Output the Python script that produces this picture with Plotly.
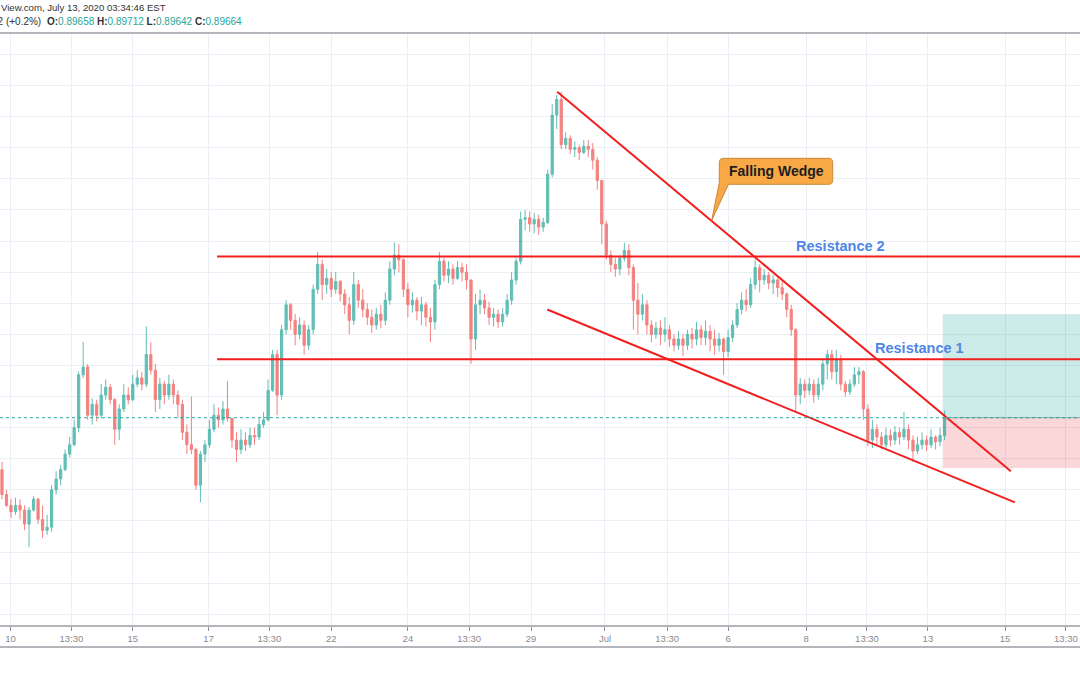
import plotly.graph_objects as go

# ---------------- data (2-hour candles) ----------------
opens = [
    .8933, .8917, .8910, .8906, .8910, .8907, .8898, .8907, .8914, .8901,
    .8894, .8896, .8920, .8927, .8933, .8943, .8949, .8960, .8994, .8999,
    .8968, .8975, .8968, .8981, .8986, .8978, .8959, .8972, .8981, .8978,
    .8988, .8992, .8988, .9007, .8997, .8978, .8988, .8981, .8988, .8981,
    .8975, .8957, .8949, .8946, .8923, .8943, .8949, .8959, .8968, .8965,
    .8972, .8966, .8952, .8946, .8952, .8949, .8955, .8954, .8962, .8965,
    .8984, .9007, .8981, .9023, .9039, .9029, .9020, .9026, .9013, .9023,
    .9049, .9065, .9052, .9056, .9049, .9054, .9046, .9039, .9029, .9052,
    .9042, .9036, .9031, .9026, .9033, .9029, .9042, .9062, .9071, .9068,
    .9049, .9039, .9042, .9035, .9039, .9031, .9028, .9052, .9067, .9058,
    .9062, .9056, .9063, .9060, .9055, .9017, .9039, .9042, .9037, .9031,
    .9033, .9028, .9033, .9042, .9055, .9067, .9094, .9095, .9091, .9094,
    .9089, .9092, .9123, .9161, .9171, .9142, .9146, .9139, .9140, .9137,
    .9141, .9139, .9132, .9119, .9091, .9071, .9065, .9062, .9069, .9074,
    .9063, .9042, .9033, .9039, .9026, .9020, .9024, .9020, .9023, .9017,
    .9013, .9017, .9013, .9020, .9017, .9023, .9018, .9022, .9017, .9013,
    .9017, .9009, .9018, .9026, .9036, .9042, .9039, .9052, .9063, .9055,
    .9058, .9053, .9055, .9050, .9046, .9036, .9023, .8981, .8988, .8984,
    .8988, .8981, .8988, .9001, .9007, .8996, .9004, .8988, .8983, .8988,
    .8994, .8996, .8972, .8952, .8959, .8954, .8949, .8955, .8952, .8957,
    .8954, .8959, .8952, .8945, .8949, .8952, .8949, .8954, .8951, .8955,
]
highs = [
    .8938, .8920, .8914, .8915, .8914, .8910, .8909, .8916, .8915, .8910,
    .8904, .8923, .8932, .8936, .8946, .8954, .8965, .8996, .9015, .9001,
    .8979, .8978, .8988, .8991, .8988, .8979, .8975, .8988, .8986, .8994,
    .8997, .8996, .9025, .9015, .9001, .8992, .8990, .8994, .8991, .8984,
    .8978, .8962, .8980, .8947, .8945, .8952, .8965, .8975, .8973, .8977,
    .8990, .8966, .8957, .8959, .8957, .8960, .8960, .8966, .8970, .8991,
    .9010, .9010, .9026, .9042, .9040, .9033, .9031, .9029, .9026, .9052,
    .9073, .9068, .9062, .9060, .9060, .9055, .9049, .9044, .9060, .9055,
    .9049, .9040, .9036, .9037, .9039, .9047, .9067, .9079, .9078, .9069,
    .9053, .9047, .9044, .9044, .9041, .9037, .9055, .9073, .9069, .9067,
    .9065, .9067, .9066, .9065, .9055, .9046, .9049, .9046, .9041, .9037,
    .9036, .9037, .9046, .9060, .9069, .9099, .9100, .9099, .9098, .9097,
    .9095, .9126, .9168, .9174, .9176, .9150, .9148, .9144, .9142, .9145,
    .9145, .9143, .9134, .9119, .9093, .9074, .9069, .9071, .9079, .9078,
    .9065, .9053, .9046, .9042, .9029, .9028, .9029, .9031, .9026, .9020,
    .9022, .9020, .9023, .9024, .9028, .9026, .9029, .9026, .9023, .9021,
    .9018, .9023, .9029, .9040, .9047, .9049, .9056, .9068, .9065, .9062,
    .9060, .9058, .9056, .9054, .9047, .9039, .9024, .8992, .8991, .8992,
    .8991, .8992, .9004, .9010, .9010, .9010, .9007, .8990, .8991, .8999,
    .8999, .8997, .8975, .8965, .8962, .8957, .8960, .8959, .8961, .8960,
    .8970, .8962, .8955, .8954, .8957, .8955, .8959, .8955, .8960, .8971,
]
lows = [
    .8914, .8909, .8902, .8904, .8901, .8894, .8883, .8906, .8898, .8889,
    .8891, .8893, .8917, .8923, .8932, .8941, .8948, .8957, .8992, .8965,
    .8962, .8964, .8966, .8978, .8975, .8949, .8952, .8970, .8975, .8977,
    .8986, .8984, .8986, .8994, .8970, .8972, .8975, .8978, .8975, .8966,
    .8952, .8943, .8943, .8920, .8912, .8938, .8947, .8957, .8960, .8962,
    .8964, .8947, .8938, .8943, .8945, .8947, .8949, .8952, .8960, .8964,
    .8983, .8968, .8978, .9020, .9023, .9013, .9017, .9007, .9010, .9020,
    .9046, .9042, .9046, .9044, .9046, .9041, .9033, .9020, .9026, .9037,
    .9031, .9026, .9021, .9023, .9024, .9026, .9039, .9058, .9060, .9044,
    .9031, .9034, .9029, .9026, .9025, .9015, .9023, .9049, .9054, .9053,
    .9052, .9055, .9054, .9049, .9001, .9010, .9033, .9033, .9026, .9025,
    .9024, .9025, .9031, .9039, .9052, .9065, .9087, .9086, .9085, .9084,
    .9086, .9091, .9121, .9152, .9139, .9139, .9136, .9134, .9132, .9136,
    .9134, .9126, .9113, .9078, .9068, .9060, .9057, .9058, .9067, .9058,
    .9023, .9020, .9029, .9020, .9015, .9017, .9013, .9015, .9012, .9009,
    .9010, .9006, .9010, .9011, .9013, .9013, .9013, .9009, .9007, .9009,
    .8994, .9005, .9015, .9024, .9033, .9035, .9037, .9049, .9047, .9052,
    .9049, .9046, .9044, .9042, .9031, .9019, .8970, .8975, .8979, .8981,
    .8976, .8978, .8984, .8991, .8991, .8988, .8984, .8980, .8981, .8986,
    .8988, .8965, .8948, .8947, .8949, .8946, .8947, .8948, .8949, .8949,
    .8952, .8946, .8938, .8943, .8946, .8945, .8947, .8946, .8948, .8952,
]
closes = [
    .8917, .8910, .8906, .8910, .8907, .8898, .8907, .8914, .8901, .8894,
    .8896, .8920, .8927, .8933, .8943, .8949, .8960, .8994, .8999, .8968,
    .8975, .8968, .8981, .8986, .8978, .8959, .8972, .8981, .8978, .8988,
    .8992, .8988, .9007, .8997, .8978, .8988, .8981, .8988, .8981, .8975,
    .8957, .8949, .8946, .8923, .8943, .8949, .8959, .8968, .8965, .8972,
    .8966, .8952, .8946, .8952, .8949, .8955, .8954, .8962, .8965, .8984,
    .9007, .8981, .9023, .9039, .9029, .9020, .9026, .9013, .9023, .9049,
    .9065, .9052, .9056, .9049, .9054, .9046, .9039, .9029, .9052, .9042,
    .9036, .9031, .9026, .9033, .9029, .9042, .9062, .9071, .9068, .9049,
    .9039, .9042, .9035, .9039, .9031, .9028, .9052, .9067, .9058, .9062,
    .9056, .9063, .9060, .9055, .9017, .9039, .9042, .9037, .9031, .9033,
    .9028, .9033, .9042, .9055, .9067, .9094, .9095, .9091, .9094, .9089,
    .9092, .9123, .9161, .9171, .9142, .9146, .9139, .9140, .9137, .9141,
    .9139, .9132, .9119, .9091, .9071, .9065, .9062, .9069, .9074, .9063,
    .9042, .9033, .9039, .9026, .9020, .9024, .9020, .9023, .9017, .9013,
    .9017, .9013, .9020, .9017, .9023, .9018, .9022, .9017, .9013, .9017,
    .9009, .9018, .9026, .9036, .9042, .9039, .9052, .9063, .9055, .9058,
    .9053, .9055, .9050, .9046, .9036, .9023, .8981, .8988, .8984, .8988,
    .8981, .8988, .9001, .9007, .8996, .9004, .8988, .8983, .8988, .8994,
    .8996, .8972, .8952, .8959, .8954, .8949, .8955, .8952, .8957, .8954,
    .8959, .8952, .8945, .8949, .8952, .8949, .8954, .8951, .8955, .89664,
]
bar_index = list(range(len(closes)))

tick_positions = [1.9, 15.4, 29.0, 45.8, 59.3, 73.0, 90.0, 103.6, 117.3,
                  133.7, 147.5, 161.0, 178.3, 191.8, 205.3, 222.4, 235.9]
tick_labels = ["10", "13:30", "15", "17", "13:30", "22", "24", "13:30", "29",
               "Jul", "13:30", "6", "8", "13:30", "13", "15", "13:30"]

resistance_levels = [0.9070, 0.9004]
resistance_names = ["Resistance 2", "Resistance 1"]
resistance_label_x = [186.0, 203.5]
resistance_start = 47.7
upper_wedge_x = [123.1, 223.7]
upper_wedge_y = [0.9176, 0.8932]
lower_wedge_x = [120.9, 224.6]
lower_wedge_y = [0.9036, 0.8912]
last_price = 0.89664
target_price = 0.9033
stop_price = 0.8934
position_start = 208.6

X_RANGE = [-0.44, 239.03]
Y_RANGE = [0.88331, 0.92138]

W, H = 1080, 675
M_T, M_B = 33, 50
PLOT_H = H - M_T - M_B

RED = "#f21f1f"
TEAL = "#26a69a"
GRID = "#e9eff4"


def px(x):
    return x / W


def py(y):
    return (H - M_B - y) / PLOT_H


fig = go.Figure()

fig.add_trace(go.Candlestick(
    x=bar_index, open=opens, high=highs, low=lows, close=closes,
    increasing=dict(line=dict(color="#26a69a", width=1), fillcolor="#26a69a"),
    decreasing=dict(line=dict(color="#ef5350", width=1), fillcolor="#ef5350"),
    whiskerwidth=0, opacity=0.72, showlegend=False, hoverinfo="skip",
))

for lvl in resistance_levels:
    fig.add_trace(go.Scatter(x=[resistance_start, X_RANGE[1]], y=[lvl, lvl], mode="lines",
                             line=dict(color=RED, width=2), showlegend=False, hoverinfo="skip"))

fig.add_trace(go.Scatter(x=upper_wedge_x, y=upper_wedge_y, mode="lines",
                         line=dict(color=RED, width=2), showlegend=False, hoverinfo="skip"))
fig.add_trace(go.Scatter(x=lower_wedge_x, y=lower_wedge_y, mode="lines",
                         line=dict(color=RED, width=2), showlegend=False, hoverinfo="skip"))

shapes = [
    # long position: target and stop zones
    dict(type="rect", xref="x", yref="y", x0=position_start, x1=X_RANGE[1],
         y0=last_price, y1=target_price, fillcolor="rgba(0,150,136,0.2)",
         line=dict(width=0), layer="between"),
    dict(type="rect", xref="x", yref="y", x0=position_start, x1=X_RANGE[1],
         y0=stop_price, y1=last_price, fillcolor="rgba(242,54,69,0.2)",
         line=dict(width=0), layer="between"),
    dict(type="line", xref="x", yref="y", x0=position_start, x1=X_RANGE[1],
         y0=last_price, y1=last_price, line=dict(color="#9aa0a6", width=1)),
    # current price line
    dict(type="line", xref="paper", yref="y", x0=0, x1=1, y0=last_price, y1=last_price,
         line=dict(color=TEAL, width=1, dash="dot")),
    # frame lines
    dict(type="line", xref="paper", yref="paper", x0=0, x1=1, y0=1, y1=1,
         line=dict(color="#b4b6bb", width=2)),
    dict(type="line", xref="paper", yref="paper", x0=0, x1=1, y0=py(647), y1=py(647),
         line=dict(color="#b4b6bb", width=2)),
]

# "Falling Wedge" callout balloon
bx0, bx1, by0, by1, r = 719.3, 832.7, 158.3, 184.3, 4
tip = (711.7, 220.5)
pts = [
    ("M", (bx0 + r, by0)), ("L", (bx1 - r, by0)), ("Q", (bx1, by0), (bx1, by0 + r)),
    ("L", (bx1, by1 - r)), ("Q", (bx1, by1), (bx1 - r, by1)),
    ("L", (728.5, by1)), ("L", tip), ("L", (bx0, by1 - 1.5)),
    ("L", (bx0, by0 + r)), ("Q", (bx0, by0), (bx0 + r, by0)),
]
path = ""
for item in pts:
    cmd = item[0]
    coords = " ".join(f"{px(p[0]):.5f},{py(p[1]):.5f}" for p in item[1:])
    path += f"{cmd}{coords} "
path += "Z"
shapes.append(dict(type="path", xref="paper", yref="paper", path=path,
                   fillcolor="#f9a846", line=dict(color="#c9873a", width=1)))

annotations = [
    dict(text="Falling Wedge", xref="paper", yref="paper", x=px(776), y=py(171.3),
         showarrow=False, xanchor="center", yanchor="middle",
         font=dict(family="Liberation Sans", size=14, color="#1e1e1e", weight="bold")),
    dict(text="View.com, July 13, 2020 03:34:46 EST", xref="paper", yref="paper",
         x=0, y=py(8), xanchor="left", yanchor="middle", showarrow=False, xshift=-1,
         font=dict(family="Liberation Sans", size=9.6, color="#333333")),
    dict(text="32 (+0.2%)", xref="paper", yref="paper", x=px(43), y=py(21),
         xanchor="right", yanchor="middle", showarrow=False,
         font=dict(family="Liberation Sans", size=10, color="#333333")),
    dict(text=(f"<b>O:</b><span style='color:{TEAL}'>0.89658</span> "
               f"<b>H:</b><span style='color:{TEAL}'>0.89712</span> "
               f"<b>L:</b><span style='color:{TEAL}'>0.89642</span> "
               f"<b>C:</b><span style='color:{TEAL}'>0.89664</span>"),
         xref="paper", yref="paper", x=px(45), y=py(21), xanchor="left", yanchor="middle",
         showarrow=False, font=dict(family="Liberation Sans", size=10, color="#333333")),
]
for name, lvl, lx in zip(resistance_names, resistance_levels, resistance_label_x):
    annotations.append(dict(text=name, xref="x", yref="y", x=lx, y=lvl, yshift=11,
                            showarrow=False, xanchor="center", yanchor="middle",
                            font=dict(family="Liberation Sans", size=14.5,
                                      color="#4f86e6", weight="bold")))

fig.update_layout(
    width=W, height=H,
    margin=dict(l=0, r=0, t=M_T, b=M_B),
    paper_bgcolor="white", plot_bgcolor="white",
    shapes=shapes, annotations=annotations,
    xaxis=dict(range=X_RANGE, tickmode="array", tickvals=tick_positions, ticktext=tick_labels,
               showgrid=True, gridcolor=GRID, gridwidth=1, zeroline=False,
               ticks="outside", ticklen=4, tickcolor="#8e9096", tickwidth=1,
               showline=True, linecolor="#b4b6bb", linewidth=2,
               tickfont=dict(family="Liberation Sans", size=9.5, color="#8a8a8a"),
               rangeslider=dict(visible=False), fixedrange=True),
    yaxis=dict(range=Y_RANGE, tick0=0.896, dtick=0.002, showticklabels=False,
               showgrid=True, gridcolor=GRID, gridwidth=1, zeroline=False,
               showline=False, fixedrange=True),
    showlegend=False,
)

fig.write_html("out.html")
